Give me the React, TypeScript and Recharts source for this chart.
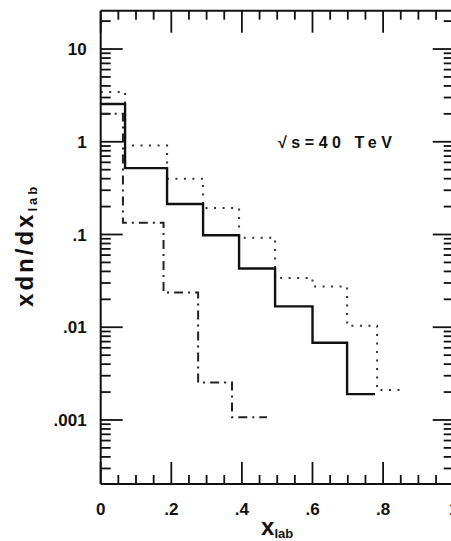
import { LineChart, Line, XAxis, YAxis, ReferenceDot, ReferenceLine } from "recharts";

// bin edges (x_lab) and heights
const solidEdges = [0, 0.069, 0.188, 0.29, 0.392, 0.494, 0.6, 0.698, 0.777];
const solidValues = [2.55, 0.52, 0.213, 0.098, 0.043, 0.0168, 0.0068, 0.0019];

const dottedEdges = [0, 0.069, 0.188, 0.29, 0.392, 0.494, 0.6, 0.698, 0.783, 0.862];
const dottedValues = [3.45, 0.91, 0.4, 0.193, 0.092, 0.034, 0.0275, 0.0104, 0.0021];

const dashDotEdges = [0, 0.063, 0.178, 0.276, 0.372, 0.471];
const dashDotValues = [2.0, 0.134, 0.0237, 0.00254, 0.00107];

const xMajorTicks = [0, 0.2, 0.4, 0.6, 0.8, 1];
const xMajorLabels = ["0", ".2", ".4", ".6", ".8", "1"];
const xMinorTicks = [0.05, 0.1, 0.15, 0.25, 0.3, 0.35, 0.45, 0.5, 0.55, 0.65, 0.7, 0.75, 0.85, 0.9, 0.95];

const yMajorTicks = [0.001, 0.01, 0.1, 1, 10];
const yMajorLabels = [".001", ".01", ".1", "1", "10"];
const yMinorMantissas = [2, 3, 4, 5, 6, 7, 8, 9];

const xDomain: [number, number] = [0, 1];
const yDomain: [number, number] = [2.04e-4, 25.9];

const ink = "#111";
const font = "'Liberation Sans', Arial, sans-serif";

// layout
const W = 460;
const H = 541;
const LEFT_W = 100.7;
const RIGHT_W = 6.3;
const TOP_H = 10.7;
const BOTTOM_H = 57;
const plotW = W - LEFT_W - RIGHT_W;
const plotH = H - TOP_H - BOTTOM_H;
const pxPerDecade = plotH / Math.log10(yDomain[1] / yDomain[0]);
const pxPerX = plotW / (xDomain[1] - xDomain[0]);

function steps(edges: number[], values: number[]) {
  const pts = values.map((v, i) => ({ x: edges[i], y: v }));
  pts.push({ x: edges[edges.length - 1], y: values[values.length - 1] });
  return pts;
}

const yMinorTicks: number[] = [];
for (let e = -4; e <= 1; e++) {
  for (const m of yMinorMantissas) {
    const v = m * Math.pow(10, e);
    if (v > yDomain[0] && v < yDomain[1]) yMinorTicks.push(v);
  }
}

const xIdx = (v: number) => xMajorTicks.findIndex((m) => Math.abs(m - v) < 1e-9);
const yIdx = (v: number) => yMajorTicks.findIndex((m) => Math.abs(v / m - 1) < 1e-6);

// inward tick marks on all four sides, as short segments in data space
type Seg = { key: string; seg: [{ x: number; y: number }, { x: number; y: number }] };
const tickSegs: Seg[] = [];
[...xMajorTicks, ...xMinorTicks].forEach((v) => {
  const f = Math.pow(10, (xIdx(v) >= 0 ? 22 : 9) / pxPerDecade);
  tickSegs.push({ key: `b${v}`, seg: [{ x: v, y: yDomain[0] }, { x: v, y: yDomain[0] * f }] });
  tickSegs.push({ key: `t${v}`, seg: [{ x: v, y: yDomain[1] }, { x: v, y: yDomain[1] / f }] });
});
[...yMajorTicks, ...yMinorTicks].forEach((v) => {
  const major = yIdx(v) >= 0;
  const l = (major ? 22 : 10) / pxPerX;
  const r = (major ? 21 : 10) / pxPerX;
  tickSegs.push({ key: `l${v}`, seg: [{ x: xDomain[0], y: v }, { x: xDomain[0] + l, y: v }] });
  tickSegs.push({ key: `r${v}`, seg: [{ x: xDomain[1], y: v }, { x: xDomain[1] - r, y: v }] });
});

function BottomLabel(props: any) {
  const i = xIdx(props.payload.value);
  if (i < 0) return <g />;
  return (
    <text x={props.x} y={props.y + 31} textAnchor="middle" fontSize={17} fontWeight="bold" fill={ink} fontFamily={font}>
      {xMajorLabels[i]}
    </text>
  );
}

function LeftLabel(props: any) {
  const i = yIdx(props.payload.value);
  if (i < 0) return <g />;
  return (
    <text x={props.x - 14} y={props.y} dy="0.36em" textAnchor="end" fontSize={17} fontWeight="bold" fill={ink} fontFamily={font}>
      {yMajorLabels[i]}
    </text>
  );
}

export default function App() {
  return (
    <div style={{ position: "absolute", left: 0, top: 0, width: 451, height: 541, overflow: "hidden", background: "#fff" }}>
      <LineChart width={W} height={H} margin={{ top: 0, right: 0, bottom: 0, left: 0 }}>
        <XAxis
          dataKey="x"
          type="number"
          domain={xDomain}
          allowDataOverflow
          ticks={xMajorTicks}
          interval={0}
          tickSize={0}
          tickMargin={0}
          tickLine={false}
          tick={BottomLabel}
          height={BOTTOM_H}
          axisLine={{ stroke: ink, strokeWidth: 2 }}
          label={{
            content: ({ viewBox }: any) => (
              <text
                x={viewBox.x + viewBox.width / 2}
                y={viewBox.y + 51}
                textAnchor="middle"
                fontFamily={font}
                fontWeight="bold"
                fill={ink}
              >
                <tspan fontSize={24}>x</tspan>
                <tspan fontSize={13} dy={3}>lab</tspan>
              </text>
            ),
          }}
        />
        <XAxis
          xAxisId="top"
          orientation="top"
          type="number"
          domain={xDomain}
          allowDataOverflow
          tick={false}
          tickLine={false}
          height={TOP_H}
          axisLine={{ stroke: ink, strokeWidth: 2 }}
        />
        <YAxis
          type="number"
          scale="log"
          domain={yDomain}
          allowDataOverflow
          ticks={yMajorTicks}
          interval={0}
          tickSize={0}
          tickMargin={0}
          tickLine={false}
          tick={LeftLabel}
          width={LEFT_W}
          axisLine={{ stroke: ink, strokeWidth: 2 }}
          label={{
            content: ({ viewBox }: any) => {
              const cx = viewBox.x + 33;
              const cy = viewBox.y + viewBox.height / 2 - 2;
              return (
                <text
                  x={cx}
                  y={cy}
                  transform={`rotate(-90, ${cx}, ${cy})`}
                  textAnchor="middle"
                  fontFamily={font}
                  fontWeight="bold"
                  fill={ink}
                  letterSpacing={3}
                >
                  <tspan fontSize={24}>xdn/dx</tspan>
                  <tspan fontSize={13} dy={4}>lab</tspan>
                </text>
              );
            },
          }}
        />
        <YAxis
          yAxisId="right"
          orientation="right"
          type="number"
          scale="log"
          domain={yDomain}
          allowDataOverflow
          tick={false}
          tickLine={false}
          width={RIGHT_W}
          axisLine={{ stroke: ink, strokeWidth: 2 }}
        />
        {tickSegs.map((t) => (
          <ReferenceLine key={t.key} segment={t.seg} stroke={ink} strokeWidth={1.8} ifOverflow="visible" />
        ))}
        <Line
          data={steps(dottedEdges, dottedValues)}
          dataKey="y"
          type="stepAfter"
          stroke="#333"
          strokeWidth={2}
          strokeDasharray="2 6.5"
          dot={false}
          activeDot={false}
          isAnimationActive={false}
        />
        <Line
          data={steps(dashDotEdges, dashDotValues)}
          dataKey="y"
          type="stepAfter"
          stroke="#222"
          strokeWidth={2}
          strokeDasharray="9 5 2 5"
          dot={false}
          activeDot={false}
          isAnimationActive={false}
        />
        <Line
          data={steps(solidEdges, solidValues)}
          dataKey="y"
          type="stepAfter"
          stroke={ink}
          strokeWidth={2.4}
          dot={false}
          activeDot={false}
          isAnimationActive={false}
        />
        <ReferenceDot
          x={0.502}
          y={0.857}
          r={0}
          fill="none"
          stroke="none"
          ifOverflow="visible"
          label={{
            content: ({ viewBox }: any) => (
              <text
                x={viewBox.x}
                y={viewBox.y}
                textLength={114}
                lengthAdjust="spacing"
                fontSize={16}
                fontWeight="bold"
                fontFamily={font}
                fill={ink}
              >
                √s=40 TeV
              </text>
            ),
          }}
        />
      </LineChart>
    </div>
  );
}
